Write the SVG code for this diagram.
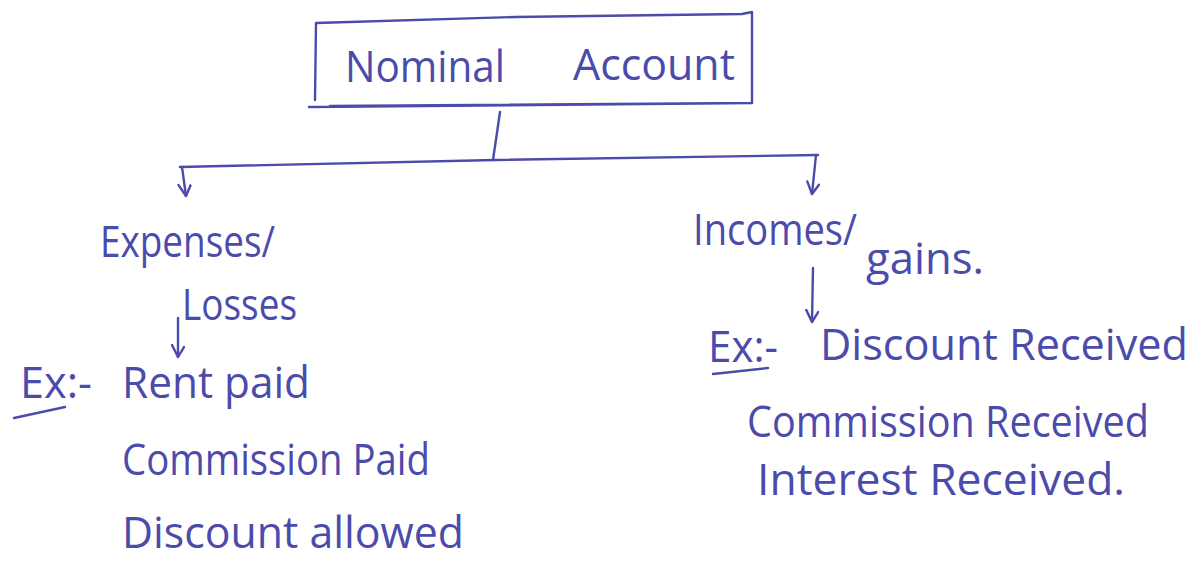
<svg xmlns="http://www.w3.org/2000/svg" width="1199" height="562" viewBox="0 0 1199 562">
<defs>
<style>
.ink{stroke:#4b4bab;stroke-width:2.4;fill:none;stroke-linecap:round;stroke-linejoin:round}
.t{font-family:"Open Sans","Liberation Sans",sans-serif;font-size:44px;fill:#4b4bab}
</style>
<marker id="ah" viewBox="0 0 14 14" refX="13" refY="7" markerWidth="14" markerHeight="14" orient="auto" markerUnits="userSpaceOnUse">
<path d="M3,1 L13,7 L1,13" fill="none" stroke="#4b4bab" stroke-width="2.4" stroke-linecap="round" stroke-linejoin="round"/>
</marker>
</defs>
<rect width="1199" height="562" fill="#fff"/>
<g id="root">
<path class="ink" d="M316,23 L515,17 L742,14 L752,12 L752,103 L330,106 M316,23 L315,100 M309,107 L752,103"/>
<text class="t" x="345" y="82" textLength="160" lengthAdjust="spacingAndGlyphs">Nominal</text>
<text class="t" x="573" y="80" textLength="162" lengthAdjust="spacingAndGlyphs">Account</text>
</g>
<g id="connectors">
<path class="ink" d="M500,112 L493,160"/>
<path class="ink" d="M180,167 L495,160 L818,155"/>
<path class="ink" d="M182,167 L186,196" marker-end="url(#ah)"/>
<path class="ink" d="M816,155 L812,194" marker-end="url(#ah)"/>
<path class="ink" d="M178,318 L178,357" marker-end="url(#ah)"/>
<path class="ink" d="M813,268 L812,322" marker-end="url(#ah)"/>
</g>
<g id="expenses">
<text class="t" x="100" y="257" textLength="175" lengthAdjust="spacingAndGlyphs">Expenses/</text>
<text class="t" x="182" y="320" textLength="115" lengthAdjust="spacingAndGlyphs">Losses</text>
</g>
<g id="expense-examples">
<text class="t" x="20" y="398" textLength="72" lengthAdjust="spacingAndGlyphs">Ex:-</text>
<path class="ink" d="M14,418 L65,407"/>
<text class="t" x="122" y="398" textLength="188" lengthAdjust="spacingAndGlyphs">Rent paid</text>
<text class="t" x="122" y="475" textLength="308" lengthAdjust="spacingAndGlyphs">Commission Paid</text>
<text class="t" x="122" y="548" textLength="342" lengthAdjust="spacingAndGlyphs">Discount allowed</text>
</g>
<g id="incomes">
<text class="t" x="693" y="245" textLength="164" lengthAdjust="spacingAndGlyphs">Incomes/</text>
<text class="t" x="866" y="274" textLength="118" lengthAdjust="spacingAndGlyphs">gains.</text>
</g>
<g id="income-examples">
<text class="t" x="708" y="362" textLength="70" lengthAdjust="spacingAndGlyphs">Ex:-</text>
<path class="ink" d="M713,374 L768,368"/>
<text class="t" x="820" y="360" textLength="368" lengthAdjust="spacingAndGlyphs">Discount Received</text>
<text class="t" x="747" y="437" textLength="402" lengthAdjust="spacingAndGlyphs">Commission Received</text>
<text class="t" x="757" y="495" textLength="368" lengthAdjust="spacingAndGlyphs">Interest Received.</text>
</g>
</svg>
